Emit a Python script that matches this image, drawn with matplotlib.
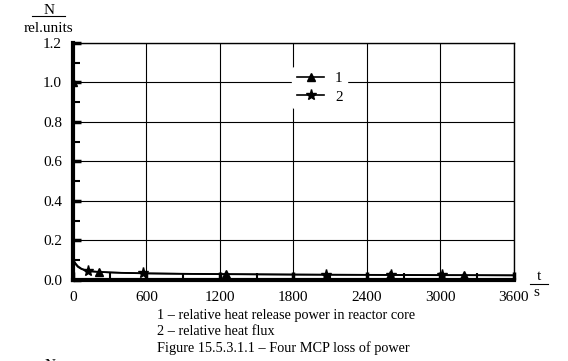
import matplotlib.pyplot as plt
from matplotlib.ticker import MultipleLocator

plt.rcParams['font.family'] = ['Liberation Serif', 'DejaVu Serif']

# curve 1 - relative heat release power in reactor core
t1 = [0, 0.5, 2, 5, 10, 20, 40, 70, 100, 150, 210, 400, 600, 900, 1250, 1800, 2400, 2590, 3000, 3190, 3600]
n1 = [1.0, 0.3, 0.13, 0.105, 0.095, 0.085, 0.07, 0.057, 0.05, 0.044, 0.041, 0.036, 0.033, 0.031, 0.029,
      0.027, 0.026, 0.025, 0.024, 0.024, 0.023]
mark1 = [0, 10, 14, 17, 19]

# curve 2 - relative heat flux
t2 = [0, 5, 10, 20, 40, 70, 125, 300, 573, 1000, 1500, 2070, 2594, 3010, 3600]
n2 = [0.1, 0.095, 0.09, 0.08, 0.066, 0.055, 0.044, 0.038, 0.034, 0.031, 0.029, 0.027, 0.026, 0.025, 0.024]
mark2 = [6, 8, 11, 12, 13]

xticks = [0, 600, 1200, 1800, 2400, 3000, 3600]
yticks = [0.0, 0.2, 0.4, 0.6, 0.8, 1.0, 1.2]

fig = plt.figure(figsize=(5.68, 3.61), dpi=100)
ax = fig.add_axes([0.1285, 0.2244, 0.776, 0.657])

ax.plot(t1, n1, color='black', lw=1.2, marker='^', markevery=mark1, ms=6, label='1', zorder=3)
ax.plot(t2, n2, color='black', lw=1.2, marker='*', markevery=mark2, ms=8, label='2', zorder=3)

ax.set_xlim(0, 3600)
ax.set_ylim(0, 1.2)
ax.set_xticks(xticks)
ax.set_yticks(yticks)
ax.set_yticklabels([f'{v:.1f}' for v in yticks])
ax.xaxis.set_minor_locator(MultipleLocator(300))
ax.yaxis.set_minor_locator(MultipleLocator(0.1))
ax.tick_params(which='both', direction='in', labelsize=11, color='black', top=False, right=False)
ax.tick_params(which='major', length=6, width=2.5, pad=8)
ax.tick_params(which='minor', length=5, width=1.5)
ax.grid(True, color='black', lw=0.8)

ax.spines['left'].set_linewidth(3)
ax.spines['bottom'].set_linewidth(3)
ax.spines['top'].set_linewidth(1)
ax.spines['right'].set_linewidth(1)

leg = ax.legend(loc='upper left', bbox_to_anchor=(0.48, 0.93), frameon=True, fontsize=11,
                handlelength=1.8, handletextpad=0.7, labelspacing=0.3, borderpad=0.3)
leg.get_frame().set_edgecolor('white')
leg.get_frame().set_facecolor('white')
leg.get_frame().set_alpha(1)

# axis labels (fraction style)
fig.text(0.086, 0.97, 'N', ha='center', va='center', fontsize=11)
fig.add_artist(plt.Line2D([0.056, 0.115], [0.955, 0.955], color='black', lw=0.8))
fig.text(0.086, 0.922, 'rel.units', ha='center', va='center', fontsize=11)

fig.text(0.949, 0.235, 't', ha='center', va='center', fontsize=11)
fig.add_artist(plt.Line2D([0.933, 0.965], [0.214, 0.214], color='black', lw=0.8))
fig.text(0.945, 0.19, 's', ha='center', va='center', fontsize=11)

fig.text(0.276, 0.127, '1 – relative heat release power in reactor core', fontsize=10.3, va='center')
fig.text(0.276, 0.083, '2 – relative heat flux', fontsize=10.3, va='center')
fig.text(0.276, 0.036, 'Figure 15.5.3.1.1 – Four MCP loss of power', fontsize=10.3, va='center')
fig.text(0.088, -0.012, 'N', ha='center', va='center', fontsize=11)

fig.savefig('out.png', dpi=100)
